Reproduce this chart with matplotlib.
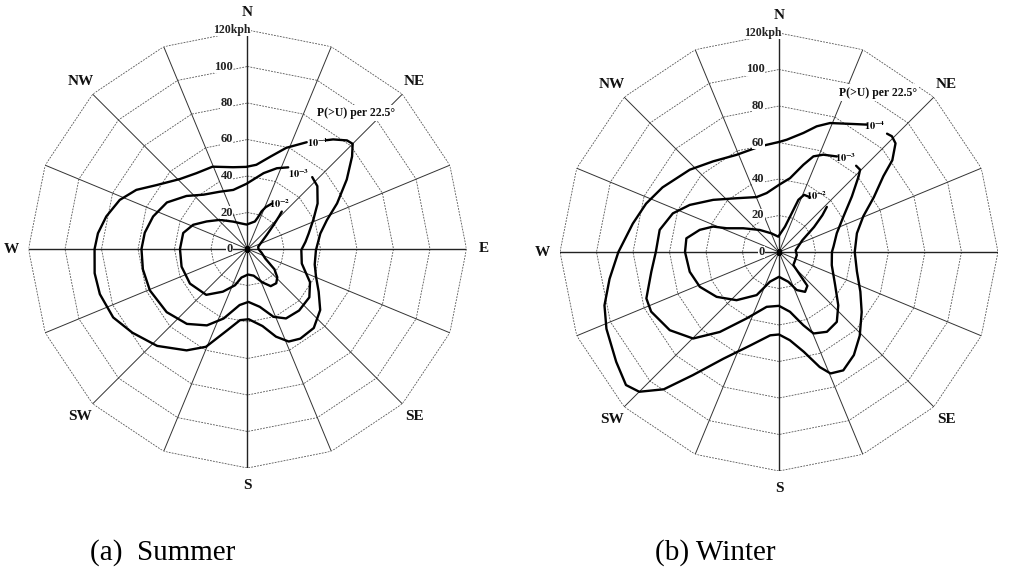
import numpy as np
import matplotlib
matplotlib.use("Agg")
import matplotlib.pyplot as plt

plt.rcParams['font.family'] = ['Liberation Serif', 'DejaVu Serif']
plt.rcParams['mathtext.fontset'] = 'stix'

# ---------------------------------------------------------------------------
# Wind speed contours (kph) of exceedance probability P(>U) per 22.5 deg sector.
# Bearings in degrees clockwise from north, listed along each contour.
# ---------------------------------------------------------------------------
summer_p4_dir = [36, 38, 42.5, 45, 48.5, 55, 63, 70, 78, 91, 103, 112, 121, 130,
                 140, 149.5, 156, 162, 169, 179, 186, 194, 203, 211, 223, 234,
                 243, 253, 261, 270, 276, 283, 291, 298, 305, 316, 326, 337, 350,
                 359, 366, 374, 381, 389]
summer_p4_spd = [73.7, 76.2, 80.7, 81.5, 76.5, 66.4, 55.1, 46.3, 40.8, 37.5, 37.8,
                 40.5, 45.5, 52, 56.5, 57, 55.5, 50.5, 43, 38.5, 39.2, 45.9, 58.2,
                 64.8, 72.6, 78, 82.6, 84.6, 84.8, 83.8, 82.4, 79.4, 75, 69, 61,
                 53.3, 50.1, 49, 45.5, 45, 46.4, 52.2, 59.4, 66.9]

summer_p3_dir = [42, 48, 57, 66, 76, 83, 91, 105, 118, 128, 140, 151, 159, 168,
                 179, 188, 199, 208, 219, 232, 247, 259, 270, 279, 289, 300, 311,
                 321, 334, 346.5, 359, 372, 380, 386.5]
summer_p3_spd = [53, 51.5, 45.8, 39.5, 34.5, 32, 29.5, 30.8, 38.8, 43, 44, 43.5,
                 39.8, 32.4, 29, 31, 40.3, 47.4, 52.8, 56.2, 58.1, 58.4, 58.1, 57,
                 54.7, 51, 44.3, 38.3, 34.9, 33.3, 35.7, 42.5, 47.1, 50]

summer_p2_dir = [42.5, 44, 47, 54, 66, 78, 90, 105, 118, 127, 133.5, 140, 148,
                 156, 167, 179, 192, 199, 210, 222, 239, 255, 270, 284, 294, 304,
                 316.5, 332.5, 344, 358, 375, 378, 380.5, 383.5, 388.5]
summer_p2_spd = [27.8, 25, 20, 13, 8, 6, 6, 8, 11, 18.5, 22.5, 24.5, 24, 20, 15,
                 14, 16, 21, 27, 33.8, 36.8, 37.4, 37, 36.3, 32.6, 27, 22, 16.9,
                 14.7, 13.4, 15.6, 18, 22, 25, 28.5]

winter_p4_dir = [42.4, 44.3, 47, 51, 54, 60, 67, 76.5, 90, 104, 116, 126, 136,
                 144, 151.5, 157, 160.5, 166, 173, 180, 186, 197, 207.5, 215, 220,
                 225, 229, 236, 246, 253, 261, 270, 281, 290, 299, 312.7, 324,
                 336.4, 349.8, 360, 364, 371.6, 376.7, 381.6, 388, 394.6]
winter_p4_spd = [87.8, 88.6, 87.3, 79.9, 70.7, 60, 50.2, 43.9, 41.5, 44, 49.6, 56,
                 63.7, 69.8, 73.8, 72.3, 66.9, 56.4, 48.7, 45.2, 45.9, 53.5, 65.9,
                 82.4, 98.2, 108.3, 111.1, 107.6, 103.5, 100, 94, 88, 81.6, 77.5,
                 73, 66.5, 61.4, 58.1, 58.8, 60.3, 61.7, 66.6, 71.9, 76, 79.6, 84.8]

winter_p3_dir = [41.8, 44.6, 46.5, 52.7, 61.2, 72, 84.4, 90, 104, 120.5, 132,
                 140.4, 149, 157, 161.6, 169.6, 180, 192.7, 206, 216.5, 224.8,
                 234.4, 245, 250.7, 261.2, 270, 280.5, 290, 297.8, 308.4, 321.8,
                 337.8, 348.2, 360, 368.5, 375.6, 379.8, 384.5, 391.2]
winter_p3_spd = [63.4, 63.3, 60.1, 50.2, 40.3, 33.3, 30, 29, 29.8, 35.7, 43.7,
                 49.7, 51, 48.5, 42.3, 33.3, 29.5, 30.8, 40.5, 54.5, 66.8, 73.6,
                 77.3, 77, 70.8, 67.5, 66.5, 61.9, 55.3, 46, 37.5, 32.5, 33, 36.8,
                 40.9, 49.6, 55.7, 58.6, 61.2]

winter_p2_dir = [46.7, 49.7, 54.5, 63.3, 84, 100, 120, 132.3, 137.6, 140, 146.8,
                 155, 162.6, 180, 196.9, 207.4, 221.4, 234.3, 246.3, 257.5, 270,
                 278.4, 285.6, 291.1, 294.4, 303.6, 319, 338, 357.4, 373.3, 378.2,
                 380.4, 383.7, 389.5]
winter_p2_spd = [36, 31.2, 23.6, 14.3, 9.2, 9.9, 10, 10.6, 17.1, 24.2, 26.1, 23,
                 17.1, 13.6, 17, 26.6, 35.2, 42.1, 47.4, 50.1, 51.5, 51.3, 45.1,
                 38.7, 31.5, 23.5, 16, 11, 8.4, 14.3, 22.4, 30.5, 34.2, 34.5]

# Contour label anchors (bearing, speed)
summer_label_pos = {'4': (33.3, 70), '3': (33.9, 50.1), '2': (35.8, 30.5)}
winter_label_pos = {'4': (37.3, 87), '3': (35.2, 63), '2': (34.0, 37)}
contour_labels = {'4': r'$\mathbf{10^{-4}}$', '3': r'$\mathbf{10^{-3}}$',
                  '2': r'$\mathbf{10^{-2}}$'}

speed_ticks = [0, 20, 40, 60, 80, 100, 120]
compass_names = ['N', 'NE', 'E', 'SE', 'S', 'SW', 'W', 'NW']
compass_dirs = [0, 45, 90, 135, 180, 225, 270, 315]
sector_dirs = np.arange(0, 360, 22.5)

W_PX, H_PX = 1010, 569
R_PX = 219

fig = plt.figure(figsize=(W_PX / 100, H_PX / 100), dpi=100)
fig.patch.set_facecolor('white')


def rose_axes(cx, cy):
    ax = fig.add_axes([(cx - R_PX) / W_PX, (H_PX - cy - R_PX) / H_PX,
                       2 * R_PX / W_PX, 2 * R_PX / H_PX], projection='polar')
    ax.set_theta_zero_location('N')
    ax.set_theta_direction(-1)
    ax.set_ylim(0, 120)
    ax.set_axis_off()

    # 16-sided speed rings
    ring_theta = np.deg2rad(np.append(sector_dirs, 360))
    for r in speed_ticks[1:]:
        ax.plot(ring_theta, [r] * len(ring_theta), color='#555555', lw=0.6,
                ls=(0, (2.2, 1.4)), zorder=1)
    # sector spokes
    for d in sector_dirs:
        main = d % 90 == 0
        ax.plot([np.deg2rad(d)] * 2, [0, 120], color='#222222' if main else '#333333',
                lw=1.0 if main else 0.7, zorder=1.5)
    ax.plot([0], [0], marker='s', ms=3.5, color='k', zorder=5)

    for name, d in zip(compass_names, compass_dirs):
        ax.text(np.deg2rad(d), 129.5, name, ha='center', va='center',
                fontsize=11, fontweight='bold', color='#111111', clip_on=False)

    for v in speed_ticks:
        if v == 120:
            ax.annotate('120kph', xy=(0, v), xytext=(-25, 0), textcoords='offset points',
                        ha='left', va='center', fontsize=8.5, fontweight='bold',
                        color='#222222', zorder=4,
                        bbox=dict(facecolor='white', edgecolor='none', pad=0.3))
        else:
            ax.annotate(str(v), xy=(0, v), xytext=(-10.5, 0), textcoords='offset points',
                        ha='right', va='center', fontsize=9, fontweight='bold',
                        color='#222222', zorder=4,
                        bbox=dict(facecolor='white', edgecolor='none', pad=0.3))
    return ax


def draw_contours(ax, curves, label_pos, note_pos):
    for key, (dirs, spd) in curves.items():
        ax.plot(np.deg2rad(dirs), spd, color='black', lw=1.7,
                solid_joinstyle='round', solid_capstyle='round', zorder=3)
        b, r = label_pos[key]
        ax.text(np.deg2rad(b), r, contour_labels[key], ha='center', va='center',
                fontsize=7.5, color='black', zorder=4)
    ax.text(np.deg2rad(note_pos[0]), note_pos[1], 'P(>U) per 22.5°', ha='center',
            va='center', fontsize=8.5, fontweight='bold', color='#111111', zorder=4,
            bbox=dict(facecolor='white', edgecolor='none', pad=1.5))


ax_s = rose_axes(247.5, 249)
draw_contours(ax_s, {'4': (summer_p4_dir, summer_p4_spd),
                     '3': (summer_p3_dir, summer_p3_spd),
                     '2': (summer_p2_dir, summer_p2_spd)},
              summer_label_pos, (38.5, 95.4))

ax_w = rose_axes(779, 252)
draw_contours(ax_w, {'4': (winter_p4_dir, winter_p4_spd),
                     '3': (winter_p3_dir, winter_p3_spd),
                     '2': (winter_p2_dir, winter_p2_spd)},
              winter_label_pos, (31.8, 102.8))

fig.text(90 / W_PX, 1 - 553 / H_PX, '(a)  Summer', ha='left', va='center', fontsize=21)
fig.text(655 / W_PX, 1 - 553 / H_PX, '(b) Winter', ha='left', va='center', fontsize=21)

fig.savefig('out.png', dpi=100, facecolor='white')
